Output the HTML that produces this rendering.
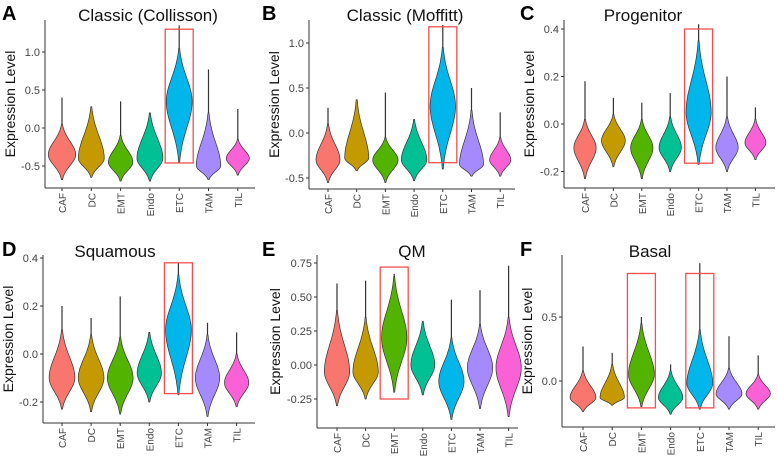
<!DOCTYPE html>
<html><head><meta charset="utf-8"><style>
body{margin:0;background:#fff;}
svg{display:block;font-family:"Liberation Sans",sans-serif;}
</style></head><body>
<svg id="fig" width="778" height="458" viewBox="0 0 778 458"></svg>
<script>
const categories=["CAF","DC","EMT","Endo","ETC","TAM","TIL"];
const colors=["#F8766D","#C49A00","#53B400","#00C094","#00B6EB","#A58AFF","#FB61D7"];
// A Classic (Collisson)
const A_low=[-0.68,-0.65,-0.7,-0.7,-0.45,-0.68,-0.62];
const A_mode=[-0.35,-0.4,-0.45,-0.4,0.35,-0.5,-0.4];
const A_high=[0.05,0.28,-0.1,0.2,1.05,0.2,-0.15];
const A_tail=[0.4,0.28,0.35,0.2,1.35,0.77,0.25];
const A_width=[0.9,0.85,0.8,0.85,0.85,0.8,0.75];
const A_ticks=[-0.5,0,0.5,1.0];const A_tickLabels=["-0.5","0.0","0.5","1.0"];
// B Classic (Moffitt)
const B_low=[-0.55,-0.42,-0.55,-0.53,-0.4,-0.48,-0.48];
const B_mode=[-0.3,-0.28,-0.3,-0.3,0.3,-0.35,-0.3];
const B_high=[0.1,0.37,-0.05,0.15,0.95,0.25,-0.05];
const B_tail=[0.28,0.37,0.45,0.15,1.2,0.5,0.23];
const B_width=[0.8,0.8,0.85,0.85,0.85,0.8,0.7];
const B_ticks=[-0.5,0,0.5,1.0];const B_tickLabels=["-0.5","0.0","0.5","1.0"];
// C Progenitor
const C_low=[-0.23,-0.18,-0.23,-0.2,-0.17,-0.2,-0.15];
const C_mode=[-0.1,-0.07,-0.1,-0.1,0.05,-0.1,-0.08];
const C_high=[0.02,0.04,0.02,0.03,0.35,0.03,0.02];
const C_tail=[0.18,0.11,0.09,0.13,0.42,0.2,0.07];
const C_width=[0.75,0.8,0.75,0.75,0.85,0.75,0.7];
const C_ticks=[-0.2,0,0.2,0.4];const C_tickLabels=["-0.2","0.0","0.2","0.4"];
// D Squamous
const D_low=[-0.23,-0.24,-0.25,-0.2,-0.17,-0.26,-0.22];
const D_mode=[-0.1,-0.1,-0.1,-0.08,0.1,-0.1,-0.12];
const D_high=[0.1,0.08,0.07,0.09,0.33,0.08,0.0];
const D_tail=[0.2,0.15,0.24,0.09,0.38,0.13,0.09];
const D_width=[0.85,0.85,0.85,0.8,0.85,0.8,0.8];
const D_ticks=[-0.2,0,0.2,0.4];const D_tickLabels=["-0.2","0.0","0.2","0.4"];
// E QM
const E_low=[-0.3,-0.25,-0.2,-0.22,-0.4,-0.32,-0.38];
const E_mode=[-0.05,-0.05,0.2,0.0,-0.12,-0.02,-0.02];
const E_high=[0.4,0.35,0.65,0.32,0.2,0.3,0.35];
const E_tail=[0.6,0.62,0.67,0.32,0.48,0.55,0.73];
const E_width=[0.85,0.85,0.85,0.8,0.85,0.85,0.85];
const E_ticks=[-0.25,0,0.25,0.5,0.75];const E_tickLabels=["-0.25","0.00","0.25","0.50","0.75"];
// F Basal
const F_low=[-0.24,-0.19,-0.2,-0.26,-0.22,-0.22,-0.22];
const F_mode=[-0.13,-0.13,0.05,-0.13,-0.02,-0.1,-0.1];
const F_high=[0.08,0.13,0.45,0.08,0.4,0.1,0.05];
const F_tail=[0.27,0.22,0.5,0.13,0.92,0.35,0.2];
const F_width=[0.85,0.8,0.85,0.8,0.85,0.85,0.8];
const F_ticks=[0,0.5];const F_tickLabels=["0.0","0.5"];

const NS="http://www.w3.org/2000/svg";
const svg=document.getElementById('fig');
function mk(tag,attrs,parent){const e=document.createElementNS(NS,tag);for(const k in attrs)e.setAttribute(k,attrs[k]);(parent||svg).appendChild(e);return e;}

const panels=[
 {id:"a",letter:"A",title:"Classic (Collisson)",low:A_low,mode:A_mode,high:A_high,tail:A_tail,width:A_width,ticks:A_ticks,tl:A_tickLabels,
  ax:45,ay:188,top:20,right:255,x0:62,dx:29.3,v0:0,y0:128,v1:1.0,y1:52,lx:2,tx:148,ty:21,boxes:[{i:4,lo:-0.46,hi:1.3}]},
 {id:"b",letter:"B",title:"Classic (Moffitt)",low:B_low,mode:B_mode,high:B_high,tail:B_tail,width:B_width,ticks:B_ticks,tl:B_tickLabels,
  ax:309,ay:189,top:20,right:515,x0:328,dx:28.7,v0:0,y0:133,v1:1.0,y1:43,lx:262,tx:405,ty:21,boxes:[{i:4,lo:-0.33,hi:1.18}]},
 {id:"c",letter:"C",title:"Progenitor",low:C_low,mode:C_mode,high:C_high,tail:C_tail,width:C_width,ticks:C_ticks,tl:C_tickLabels,
  ax:564,ay:188,top:20,right:775,x0:585,dx:28.4,v0:0,y0:124,v1:0.4,y1:29,lx:520,tx:643,ty:21,boxes:[{i:4,lo:-0.165,hi:0.4}]},
 {id:"d",letter:"D",title:"Squamous",low:D_low,mode:D_mode,high:D_high,tail:D_tail,width:D_width,ticks:D_ticks,tl:D_tickLabels,
  ax:43,ay:423,top:255,right:255,x0:62,dx:29.1,v0:0,y0:354,v1:0.4,y1:258,lx:2,tx:115,ty:257,boxes:[{i:4,lo:-0.165,hi:0.38}]},
 {id:"e",letter:"E",title:"QM",low:E_low,mode:E_mode,high:E_high,tail:E_tail,width:E_width,ticks:E_ticks,tl:E_tickLabels,
  ax:317,ay:428,top:255,right:518,x0:337,dx:28.6,v0:0,y0:365,v1:0.75,y1:263,lx:262,tx:412,ty:257,boxes:[{i:2,lo:-0.25,hi:0.72}]},
 {id:"f",letter:"F",title:"Basal",low:F_low,mode:F_mode,high:F_high,tail:F_tail,width:F_width,ticks:F_ticks,tl:F_tickLabels,
  ax:562,ay:427,top:255,right:775,x0:583,dx:29.2,v0:0,y0:381,v1:0.5,y1:317,lx:520,tx:650,ty:257,boxes:[{i:2,lo:-0.21,hi:0.84},{i:4,lo:-0.21,hi:0.84}]}
];

panels.forEach(p=>{
  const g=mk('g',{});
  
  
  const ys=v=>p.y0+(v-p.v0)*(p.y1-p.y0)/(p.v1-p.v0);
  const xs=i=>p.x0+i*p.dx;
  const L=mk('text',{x:p.lx,y:p.ty-1,'font-size':20,'font-weight':'bold',fill:'#000'},g);L.textContent=p.letter;
  
  
  const T=mk('text',{x:p.tx,y:p.ty,'font-size':17,'text-anchor':'middle',fill:'#111'},g);T.textContent=p.title;
  
  
  const yc=(p.top+p.ay)/2;
  const YT=mk('text',{x:0,y:0,'font-size':14,'text-anchor':'middle',fill:'#111',transform:`translate(${p.ax-30+ (p.id==='e'?-7:0)},${yc}) rotate(-90)`},g);YT.textContent="Expression Level";
  
  
  const ya=mk('line',{x1:p.ax,y1:p.top,x2:p.ax,y2:p.ay,stroke:'#333','stroke-width':1},g);
  
  
  const xa=mk('line',{x1:p.ax,y1:p.ay,x2:p.right,y2:p.ay,stroke:'#333','stroke-width':1},g);
  
  
  p.ticks.forEach((t,k)=>{
    const y=ys(t);
    mk('line',{x1:p.ax-3,y1:y,x2:p.ax,y2:y,stroke:'#333'},g);
    const tt=mk('text',{x:p.ax-5,y:y+4,'font-size':11,'text-anchor':'end',fill:'#444'},g);tt.textContent=p.tl[k];
    
    
  });
  categories.forEach((c,i)=>{
    const x=xs(i);
    mk('line',{x1:x,y1:p.ay,x2:x,y2:p.ay+3,stroke:'#333'},g);
    const xl=mk('text',{x:0,y:0,'font-size':10,'text-anchor':'end',fill:'#444',transform:`translate(${x+4},${p.ay+5}) rotate(-90)`},g);xl.textContent=c;
    
    
    const lo=p.low[i],m=p.mode[i],hi=p.high[i],w=p.width[i]*p.dx/2;
    const sl=(m-lo)/2.3||0.01,sh=(hi-m)/2.3||0.01;
    const eL=Math.exp(-0.5*2.3*2.3);
    const N=50,pts=[];
    for(let k=0;k<=N;k++){
      const v=lo+(hi-lo)*k/N;
      const s=v<m?sl:sh;
      let gg=Math.exp(-0.5*((v-m)/s)**2);
      gg=Math.max(0,(gg-eL)/(1-eL));
      pts.push([v,w*gg+0.5]);
    }
    let d='';
    pts.forEach((q,k)=>{d+=(k?'L':'M')+(x+q[1]).toFixed(1)+','+ys(q[0]).toFixed(1);});
    for(let k=pts.length-1;k>=0;k--){d+='L'+(x-pts[k][1]).toFixed(1)+','+ys(pts[k][0]).toFixed(1);}
    d+='Z';
    if(p.tail[i]>hi){
      const tl=mk('line',{x1:x,y1:ys(hi),x2:x,y2:ys(p.tail[i]),stroke:'#333','stroke-width':1.2},g);
      
      
    }
    const vp=mk('path',{d:d,fill:colors[i],stroke:'#333','stroke-width':0.7},g);
    
    
  });
  p.boxes.forEach(b=>{
    const x=xs(b.i);
    const r=mk('rect',{x:x-14,y:ys(b.hi),width:28,height:ys(b.lo)-ys(b.hi),fill:'none',stroke:'#F05050','stroke-width':1.3},g);
    
    
  });
});
</script>
</body></html>
